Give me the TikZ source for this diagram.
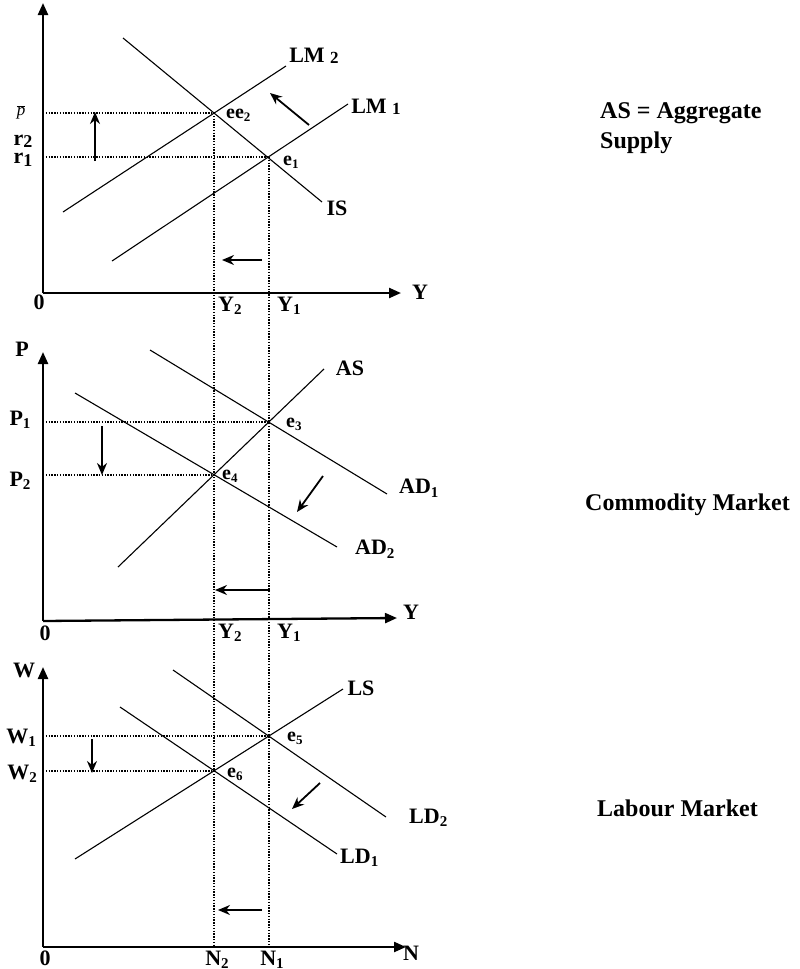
\documentclass[tikz,border=0pt]{standalone}
\usepackage{fontspec}
\setmainfont{Liberation Serif}
\usetikzlibrary{arrows.meta}
\newcommand{\sbs}[1]{\raisebox{-0.35ex}{\fontsize{15}{15}\selectfont #1}}
\newcommand{\esb}[1]{\raisebox{-0.3ex}{\fontsize{13}{13}\selectfont #1}}
\tikzset{
  lab/.style={font=\fontsize{22}{24}\selectfont\bfseries, inner sep=0pt},
  elab/.style={font=\fontsize{20}{20}\selectfont\bfseries, inner sep=0pt, anchor=west},
  big/.style={font=\fontsize{24}{26}\selectfont\bfseries, inner sep=0pt, anchor=west},
  axisline/.style={line width=2.3pt, -{Triangle[length=12pt,width=10pt]}},
  curve/.style={line width=1.1pt},
  guide/.style={line width=1.9pt, dash pattern=on 1.4pt off 1.4pt},
  movearrow/.style={line width=1.8pt, -{Stealth[length=12pt,width=10pt]}}
}
\begin{document}
\begin{tikzpicture}[x=1pt,y=-1pt]
\useasboundingbox (0,0) rectangle (800,969);
% ---------- key points ----------
\coordinate (ee2) at (214,113);
\coordinate (e1) at (269,157);
\coordinate (e3) at (269,422);
\coordinate (e4) at (214,475);
\coordinate (e5) at (269,736);
\coordinate (e6) at (214,771);
% ---------- axes ----------
\coordinate (o1) at (43,293);
\coordinate (o2) at (43,621);
\coordinate (o3) at (43,947);
\coordinate (ytop1) at (43,3);
\coordinate (xend1) at (401,293);
\coordinate (ytop2) at (43,352);
\coordinate (xend2) at (397,618);
\coordinate (ytop3) at (43,667);
\coordinate (xend3) at (406,947);
\draw[axisline] (o1) -- (ytop1);
\draw[axisline] (o1) -- (xend1);
\draw[axisline] (o2) -- (ytop2);
\draw[axisline] (o2) -- (xend2);
\draw[axisline] (o3) -- (ytop3);
\draw[axisline] (o3) -- (xend3);
% ---------- guide lines ----------
\coordinate (ax1a) at (43,113);
\coordinate (ax1b) at (43,157);
\coordinate (ax2a) at (43,422);
\coordinate (ax2b) at (43,475);
\coordinate (ax3a) at (43,736);
\coordinate (ax3b) at (43,771);
\coordinate (bot2) at (214,947);
\coordinate (bot1) at (269,947);
\draw[guide] (ax1a) -- (ee2);
\draw[guide] (ax1b) -- (e1);
\draw[guide] (ax2a) -- (e3);
\draw[guide] (ax2b) -- (e4);
\draw[guide] (ax3a) -- (e5);
\draw[guide] (ax3b) -- (e6);
\draw[guide] (ee2) -- (bot2);
\draw[guide] (e1) -- (bot1);
% ---------- curves: top ----------
\draw[curve] (123,38) -- (322,202);
\draw[curve] (63,212) -- (286,66);
\draw[curve] (112,261) -- (348,104);
% ---------- curves: middle ----------
\draw[curve] (118,567) -- (324,369);
\draw[curve] (150,350) -- (387,494);
\draw[curve] (75,393) -- (337,547);
% ---------- curves: bottom ----------
\draw[curve] (75,859) -- (343,689);
\draw[curve] (173,670) -- (386,817);
\draw[curve] (120,707) -- (337,854);
% ---------- shift arrows ----------
\draw[movearrow] (95,161) -- (95,112);
\draw[movearrow] (309,125) -- (270,93);
\draw[movearrow] (262,260) -- (222,260);
\draw[movearrow] (102,426) -- (102,475);
\draw[movearrow] (323,476) -- (297,512);
\draw[movearrow] (270,590) -- (215,590);
\draw[movearrow] (92,739) -- (92,773);
\draw[movearrow] (320,783) -- (292,809);
\draw[movearrow] (262,910) -- (218,910);
% ---------- labels: top ----------
\node[inner sep=0pt, font=\fontsize{17}{18}\selectfont] (pbar) at (21,112) {$\overline{\hbox{\itshape p}}$};
\node[lab] (r2) at (23,141) {r\raisebox{-0.2ex}{\fontsize{18}{18}\selectfont 2}};
\node[lab] (r1) at (23,160) {r\raisebox{-0.3ex}{\fontsize{18}{18}\selectfont 1}};
\node[lab] (z1) at (39,302) {0};
\node[lab] (Ya) at (420,292) {Y};
\node[lab, anchor=west] (Y2a) at (218,306) {Y\sbs{2}};
\node[lab, anchor=west] (Y1a) at (277,306) {Y\sbs{1}};
\node[lab] (LM2) at (314,56) {LM \raisebox{-0.15ex}{\fontsize{17}{17}\selectfont 2}};
\node[lab] (LM1) at (376,107) {LM \raisebox{-0.15ex}{\fontsize{17}{17}\selectfont 1}};
\node[lab] (IS) at (337,208) {IS};
\node[elab] (lee2) at (226,115) {ee\esb{2}};
\node[elab] (le1) at (283,162) {e\esb{1}};
% ---------- labels: middle ----------
\node[lab] (P) at (22,349) {P};
\node[lab] (P1) at (20,420) {P\sbs{1}};
\node[lab] (P2) at (20,481) {P\sbs{2}};
\node[lab] (z2) at (45,633) {0};
\node[lab] (Yb) at (411,612) {Y};
\node[lab, anchor=west] (Y2b) at (218,633) {Y\sbs{2}};
\node[lab, anchor=west] (Y1b) at (277,633) {Y\sbs{1}};
\node[lab] (AS) at (350,368) {AS};
\node[lab, anchor=west] (AD1) at (399,488) {AD\sbs{1}};
\node[lab, anchor=west] (AD2) at (355,549) {AD\sbs{2}};
\node[elab] (le3) at (286,424) {e\esb{3}};
\node[elab] (le4) at (222,476) {e\esb{4}};
% ---------- labels: bottom ----------
\node[lab] (W) at (24,670) {W};
\node[lab] (W1) at (21,738) {W\sbs{1}};
\node[lab] (W2) at (22,774) {W\sbs{2}};
\node[lab] (z3) at (45,958) {0};
\node[lab] (N) at (411,953) {N};
\node[lab] (N2) at (217,960) {N\sbs{2}};
\node[lab] (N1) at (272,960) {N\sbs{1}};
\node[lab] (LS) at (361,688) {LS};
\node[lab, anchor=west] (LD2) at (409,818) {LD\sbs{2}};
\node[lab, anchor=west] (LD1) at (340,858) {LD\sbs{1}};
\node[elab] (le5) at (287,738) {e\esb{5}};
\node[elab] (le6) at (227,774) {e\esb{6}};
% ---------- side texts ----------
\node[big] (t1) at (600,113) {AS = Aggregate};
\node[big] (t2) at (600,143) {Supply};
\node[big] (t3) at (585,505) {Commodity Market};
\node[big] (t4) at (597,808) {Labour Market};
\end{tikzpicture}
\end{document}
